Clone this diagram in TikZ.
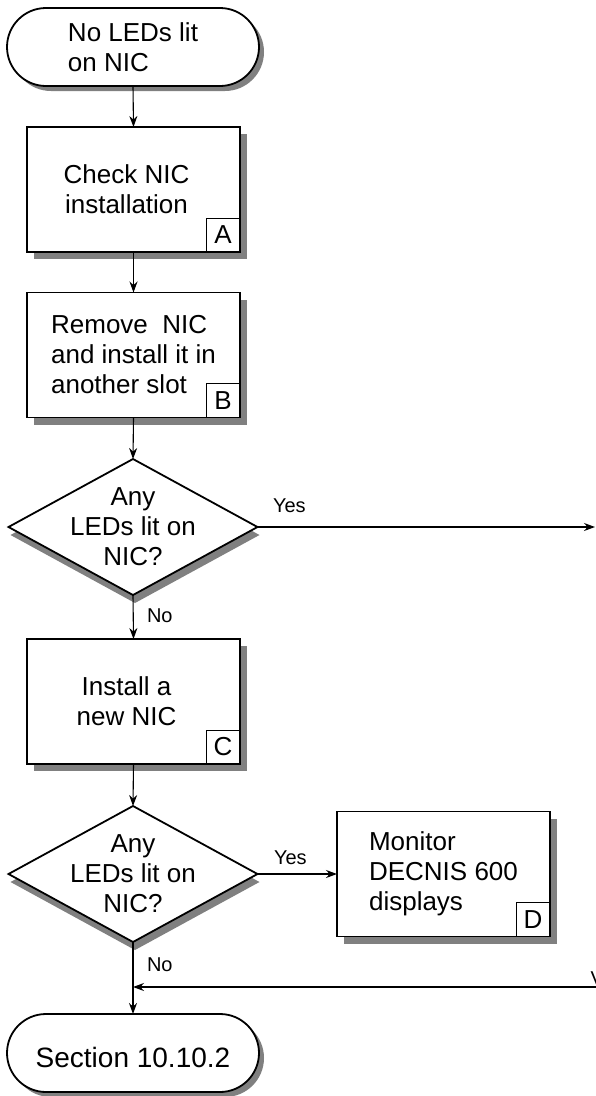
\documentclass[tikz,border=0pt]{standalone}
\usepackage{fontspec}
\setmainfont{Liberation Sans}
\usetikzlibrary{shapes.geometric,shapes.misc,shadows,arrows.meta}
\newcommand{\padr}{\hspace*{14pt}}
\begin{document}
\begin{tikzpicture}[x=1pt,y=-1pt,
  every node/.style={inner sep=0pt,outer sep=0pt},
  main/.style={font=\fontsize{26}{30}\selectfont},
  small/.style={font=\fontsize{20}{23}\selectfont},
  shade/.style={drop shadow={shadow xshift=#1,shadow yshift=-#1,fill=black!50,opacity=1}},
  procbox/.style={main,draw,line width=1.8pt,fill=white,minimum width=213pt,minimum height=125pt,
     shade=7pt,align=left},
  lblbox/.style={main,draw,line width=0.9pt,minimum width=34pt,minimum height=34pt,anchor=south east},
  term/.style={main,draw,line width=1.8pt,fill=white,rounded rectangle,minimum width=252pt,
     minimum height=78pt,shade=5pt,align=left},
  dia/.style={draw,line width=1.8pt,fill=white,diamond,minimum width=249pt,minimum height=136pt,
     drop shadow={shadow xshift=2pt,shadow yshift=-8pt,fill=black!50,opacity=1}},
  arr/.style={line width=1.1pt,-{Stealth[length=11pt,width=8pt]}},
]
\useasboundingbox (0,0) rectangle (595,1096);

% nodes
\node[term] (t1) at (133,47) {No LEDs lit\\on NIC};
\node[procbox,align=center] (a) at (133.5,189.5) {Check NIC\padr\\installation\padr};
\node[lblbox] (aL) at (a.south east) {A};
\node[procbox] (b) at (133.5,355) {Remove\ \ NIC\\and install it in\\another slot};
\node[lblbox] (bL) at (b.south east) {B};
\node[dia] (d1) at (133,527) {};
\node[main,align=center] (d1t) at (d1.center) {Any\\LEDs lit on\\NIC?};
\node[procbox,align=center] (c) at (133.5,701.5) {Install a\padr\\new NIC\padr};
\node[lblbox] (cL) at (c.south east) {C};
\node[dia] (d2) at (133,874) {};
\node[main,align=center] (d2t) at (d2.center) {Any\\LEDs lit on\\NIC?};
\node[procbox] (d) at (443.5,874) {Monitor\\DECNIS 600\\displays};
\node[lblbox] (dL) at (d.south east) {D};
\node[term,font=\fontsize{28}{32}\selectfont,text height=30pt] (t2) at (133,1053) {Section 10.10.2};

% free ends
\coordinate (yesEnd) at (595,527);
\coordinate (rin) at (596,987);

% connectors
\draw[arr] (t1.south) -- (a.north);
\draw[arr] (a.south) -- (b.north);
\draw[arr] (b.south) -- (d1.north);
\draw[arr] (d1.east) -- (yesEnd);
\draw[arr] (d1.south) -- (c.north);
\draw[arr] (c.south) -- (d2.north);
\draw[arr] (d2.east) -- (d.west);
\draw[arr] (d2.south) -- (t2.north);
\draw[arr] (rin) -- (d2.south |- rin);

% labels
\node[small,anchor=west] (y1) at (273,506) {Yes};
\node[small,anchor=west] (n1) at (147,616) {No};
\node[small,anchor=west] (y2) at (274,858) {Yes};
\node[small,anchor=west] (n2) at (147,965) {No};
\node[small,anchor=base west] (vcut) at (590.5,985) {V};
\end{tikzpicture}
\end{document}
